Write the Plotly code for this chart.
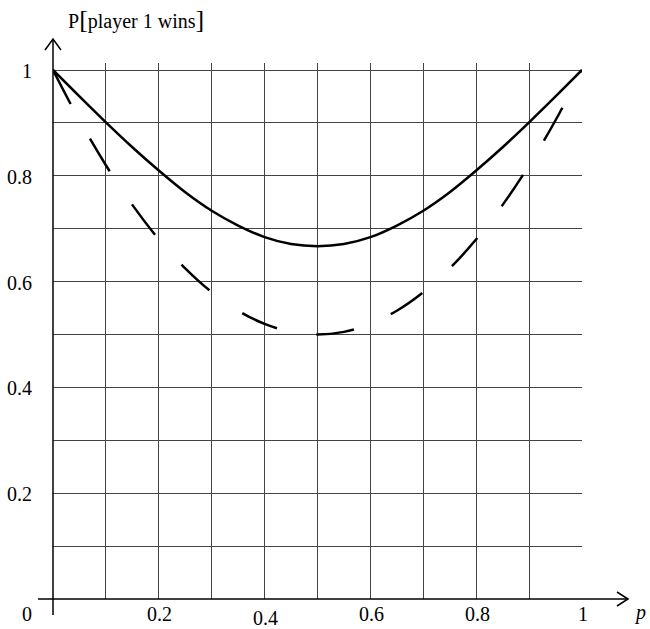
import plotly.graph_objects as go

# Data
p_vals = [0.0, 0.05, 0.1, 0.15, 0.2, 0.25, 0.3, 0.35, 0.4, 0.45, 0.5,
          0.55, 0.6, 0.65, 0.7, 0.75, 0.8, 0.85, 0.9, 0.95, 1.0]
solid_vals = [1.0, 0.950, 0.901, 0.854, 0.810, 0.769, 0.734, 0.706, 0.684, 0.671, 0.667,
              0.671, 0.684, 0.706, 0.734, 0.769, 0.810, 0.854, 0.901, 0.950, 1.0]
dashed_vals = [1.0, 0.905, 0.820, 0.745, 0.680, 0.625, 0.580, 0.545, 0.520, 0.505, 0.500,
               0.505, 0.520, 0.545, 0.580, 0.625, 0.680, 0.745, 0.820, 0.905, 1.0]

x_tick_vals = [0.2, 0.4, 0.6, 0.8, 1.0]
x_tick_text = ["0.2", "0.4", "0.6", "0.8", "1"]
y_tick_vals = [0.2, 0.4, 0.6, 0.8, 1.0]
y_tick_text = ["0.2", "0.4", "0.6", "0.8", "1"]
origin_label = "0"
x_axis_title = "p"
y_axis_title = "P[player 1 wins]"

FONT = "Liberation Serif, Times New Roman, serif"
W, H = 650, 629
L, T = 53, 63
PW, PH = 529, 536
R, B = W - L - PW, H - T - PH


def px(x):
    return (x - L) / PW


def py(y):
    return (T + PH - y) / PH


fig = go.Figure()
fig.add_trace(go.Scatter(x=p_vals, y=dashed_vals, mode="lines",
                         line=dict(color="black", width=2.5, dash="38px,40px", shape="spline"),
                         hoverinfo="skip"))
fig.add_trace(go.Scatter(x=p_vals, y=solid_vals, mode="lines",
                         line=dict(color="black", width=2.5, shape="spline"),
                         hoverinfo="skip"))

shapes = []
shapes.append(dict(type="line", xref="paper", yref="paper", x0=px(38), x1=px(628), y0=0, y1=0,
                   line=dict(color="black", width=1.5)))
shapes.append(dict(type="path", xref="paper", yref="paper",
                   path=f"M {px(617)} {py(592)} L {px(628)} {py(599)} L {px(617)} {py(606)}",
                   line=dict(color="black", width=1.5)))
shapes.append(dict(type="line", xref="paper", yref="paper", x0=0, x1=0, y0=py(615), y1=py(39),
                   line=dict(color="black", width=1.5)))
shapes.append(dict(type="path", xref="paper", yref="paper",
                   path=f"M {px(45)} {py(50)} L {px(53)} {py(39)} L {px(61)} {py(50)}",
                   line=dict(color="black", width=1.5)))

annotations = []
for v, t in zip(x_tick_vals, x_tick_text):
    dy = -19 if t == "0.4" else -15
    annotations.append(dict(x=v, y=0, xref="x", yref="paper", text=t, showarrow=False,
                            xanchor="center", yanchor="middle", yshift=dy, xshift=1,
                            font=dict(family=FONT, size=20, color="black")))
for v, t in zip(y_tick_vals, y_tick_text):
    annotations.append(dict(x=0, y=v, xref="paper", yref="y", text=t, showarrow=False,
                            xanchor="right", yanchor="middle", xshift=-19, yshift=-1,
                            font=dict(family=FONT, size=20, color="black")))
annotations.append(dict(x=0, y=0, xref="paper", yref="paper", text=origin_label, showarrow=False,
                        xanchor="center", yanchor="middle", xshift=-26, yshift=-15,
                        font=dict(family=FONT, size=20, color="black")))
annotations.append(dict(x=px(640), y=0, xref="paper", yref="paper", text=f"<i>{x_axis_title}</i>",
                        showarrow=False, xanchor="center", yanchor="middle", yshift=-13,
                        font=dict(family=FONT, size=20, color="black")))
ytitle_html = "P<span style='font-size:26px'>[</span>player 1 wins<span style='font-size:26px'>]</span>"
annotations.append(dict(x=px(66), y=py(19), xref="paper", yref="paper", text=ytitle_html,
                        showarrow=False, xanchor="left", yanchor="middle",
                        font=dict(family=FONT, size=20, color="black")))

fig.update_layout(
    width=W, height=H,
    margin=dict(l=L, r=R, t=T, b=B),
    paper_bgcolor="white", plot_bgcolor="white",
    showlegend=False,
    shapes=shapes, annotations=annotations,
    xaxis=dict(range=[0, 1], dtick=0.1, tick0=0, showgrid=True, gridcolor="#444", gridwidth=1,
               showticklabels=False, zeroline=False, showline=False, ticks="", fixedrange=True),
    yaxis=dict(range=[0, 1 + 7 / 529], dtick=0.1, tick0=0, showgrid=True, gridcolor="#444",
               gridwidth=1, showticklabels=False, zeroline=False, showline=False, ticks="",
               fixedrange=True),
)

fig.write_html("out.html", config={"displayModeBar": False},
               post_script="document.body.style.margin='0';document.body.style.overflow='hidden';")
